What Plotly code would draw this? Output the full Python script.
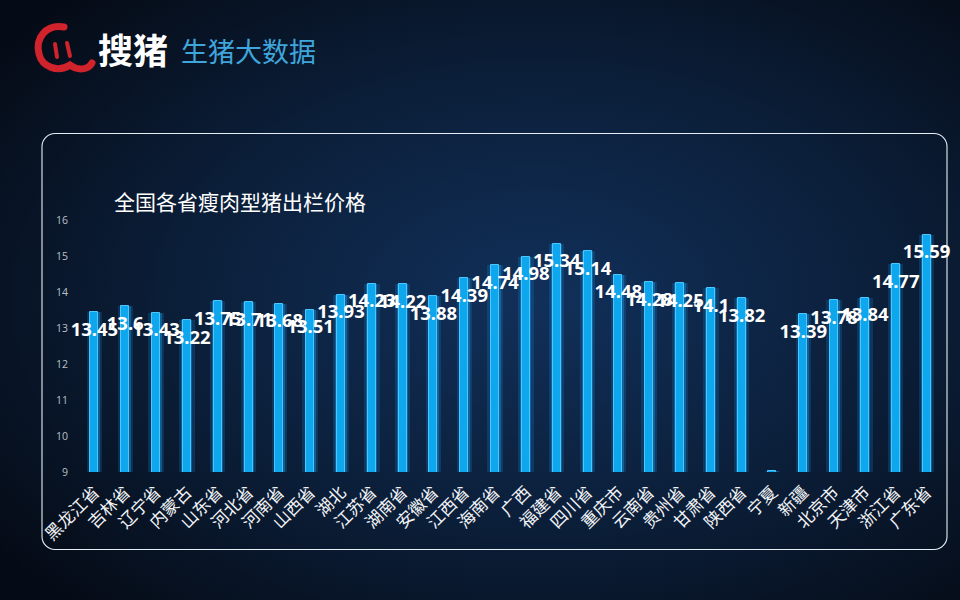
import base64
import plotly.graph_objects as go

provinces = ["黑龙江省", "吉林省", "辽宁省", "内蒙古", "山东省", "河北省", "河南省", "山西省",
             "湖北", "江苏省", "湖南省", "安徽省", "江西省", "海南省", "广西", "福建省",
             "四川省", "重庆市", "云南省", "贵州省", "甘肃省", "陕西省", "宁夏", "新疆",
             "北京市", "天津市", "浙江省", "广东省"]
prices = [13.45, 13.6, 13.43, 13.22, 13.75, 13.71, 13.68, 13.51,
          13.93, 14.23, 14.22, 13.88, 14.39, 14.74, 14.98, 15.34,
          15.14, 14.48, 14.28, 14.25, 14.1, 13.82, 9.02, 13.39,
          13.78, 13.84, 14.77, 15.59]
price_labels = ["13.45", "13.6", "13.43", "13.22", "13.75", "13.71", "13.68", "13.51",
                "13.93", "14.23", "14.22", "13.88", "14.39", "14.74", "14.98", "15.34",
                "15.14", "14.48", "14.28", "14.25", "14.1", "13.82", "", "13.39",
                "13.78", "13.84", "14.77", "15.59"]
y_ticks = [9, 10, 11, 12, 13, 14, 15, 16]
title_text = "全国各省瘦肉型猪出栏价格"

W, H = 960, 600
L, R, T, B = 79, 18, 220, 128
PW, PH = W - L - R, H - T - B


def px(x):
    return (x - L) / PW


def py(y):
    return (H - B - y) / PH


svg = f"""<svg xmlns='http://www.w3.org/2000/svg' width='{W}' height='{H}' viewBox='0 0 {W} {H}' preserveAspectRatio='none'>
<defs>
<radialGradient id='g' cx='0.56' cy='0.5' r='0.7'>
<stop offset='0' stop-color='#11305a'/>
<stop offset='0.55' stop-color='#0b1e38'/>
<stop offset='1' stop-color='#050b16'/>
</radialGradient>
</defs>
<rect width='{W}' height='{H}' fill='url(#g)'/>
<rect x='42' y='133.5' width='905' height='416' rx='13' ry='13' fill='none' stroke='#e6eef5' stroke-width='1.1'/>
<path d='M 64 27 C 46 24, 35 38, 39 54 C 42 67, 58 73, 70 65 C 78 71, 88 70, 92 63' fill='none' stroke='#d0232b' stroke-width='7' stroke-linecap='round'/>
<path d='M 55 44 L 57 57' stroke='#d0232b' stroke-width='4' stroke-linecap='round'/>
<path d='M 67 43 L 70 56' stroke='#d0232b' stroke-width='4' stroke-linecap='round'/>
</svg>"""
svg_uri = "data:image/svg+xml;base64," + base64.b64encode(svg.encode("utf-8")).decode("ascii")

fig = go.Figure()

# glow
fig.add_trace(go.Bar(
    x=provinces, y=prices, width=0.5,
    marker=dict(color="rgba(20,150,235,0.20)", line=dict(width=0)),
    hoverinfo="skip", showlegend=False,
))
fig.add_trace(go.Bar(
    x=provinces, y=prices, width=0.36,
    marker=dict(color="rgba(30,170,245,0.35)", line=dict(width=0)),
    hoverinfo="skip", showlegend=False,
))
# main bars
fig.add_trace(go.Bar(
    x=provinces, y=prices, width=0.26,
    marker=dict(color="#0ea6ec", line=dict(color="#4cc6ff", width=1)),
    showlegend=False,
))
# data labels (inside end of each bar)
fig.add_trace(go.Scatter(
    x=provinces, y=[v - 0.53 for v in prices], mode="text",
    text=price_labels, textposition="middle center",
    textfont=dict(family="Noto Sans, DejaVu Sans, sans-serif", size=18.5, color="#ffffff", weight="bold"),
    hoverinfo="skip", showlegend=False, cliponaxis=False,
))

fig.update_layout(
    width=W, height=H,
    margin=dict(l=L, r=R, t=T, b=B, autoexpand=False),
    paper_bgcolor="#08152a",
    plot_bgcolor="rgba(0,0,0,0)",
    barmode="overlay",
    bargap=0,
    xaxis=dict(
        type="category", tickangle=-45, showgrid=False, zeroline=False,
        showline=False, ticks="", ticklabelstandoff=6,
        tickfont=dict(family="Noto Sans CJK SC", size=17, color="#f2f4f7"),
        range=[-0.5, len(provinces) - 0.5], fixedrange=True,
    ),
    yaxis=dict(
        range=[9, 16], tickvals=y_ticks, showgrid=False, zeroline=False,
        showline=False, ticks="", ticklabelstandoff=10,
        tickfont=dict(family="Open Sans, sans-serif", size=10.5, color="#b8c0c8"),
        fixedrange=True,
    ),
    images=[dict(
        source=svg_uri, xref="paper", yref="paper",
        x=px(0), y=py(0), sizex=W / PW, sizey=H / PH,
        xanchor="left", yanchor="top", sizing="stretch", layer="below",
    )],
    annotations=[
        dict(text=title_text, xref="paper", yref="paper", x=px(112), y=py(201),
             xanchor="left", yanchor="middle", showarrow=False,
             font=dict(family="Noto Sans CJK SC", size=21, color="#ffffff")),
        dict(text="<b>搜猪</b>", xref="paper", yref="paper", x=px(96), y=py(48),
             xanchor="left", yanchor="middle", showarrow=False,
             font=dict(family="Noto Sans CJK SC", size=35, color="#ffffff")),
        dict(text="生猪大数据", xref="paper", yref="paper", x=px(179), y=py(50),
             xanchor="left", yanchor="middle", showarrow=False,
             font=dict(family="Noto Sans CJK SC", size=27, color="#3ea6dc")),
    ],
)

fig.write_html(
    "out.html",
    config={"displayModeBar": False},
    post_script="document.body.style.margin='0';document.body.style.overflow='hidden';",
)
